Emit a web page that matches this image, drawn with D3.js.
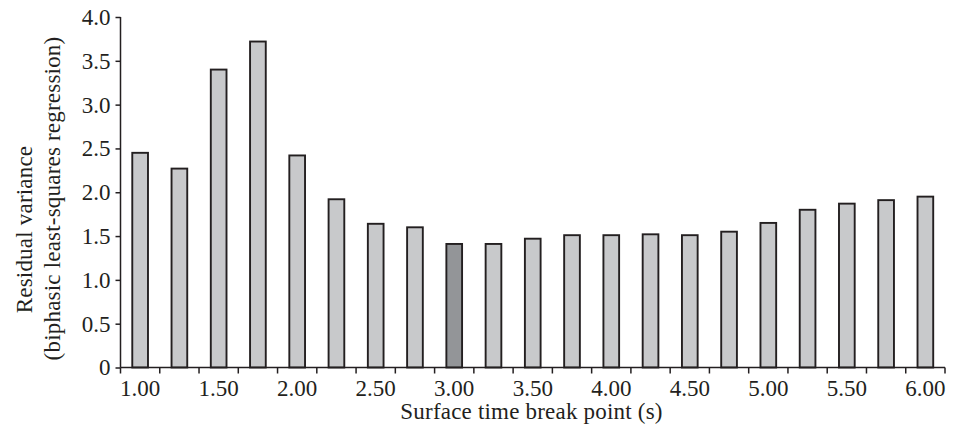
<!DOCTYPE html>
<html>
<head>
<meta charset="utf-8">
<script src="https://cdn.jsdelivr.net/npm/d3@7"></script>
<style>
  body { margin: 0; background: #fff; }
  text { font-family: "Liberation Serif", "DejaVu Serif", serif; fill: #231f20; }
</style>
</head>
<body>
<div id="chart"></div>
<script>
// data
var breakPoints = ["1.00","1.25","1.50","1.75","2.00","2.25","2.50","2.75","3.00","3.25","3.50",
                   "3.75","4.00","4.25","4.50","4.75","5.00","5.25","5.50","5.75","6.00"];
var residualVariance = [2.45, 2.27, 3.40, 3.72, 2.42, 1.92, 1.64, 1.60, 1.41, 1.41, 1.47,
                        1.51, 1.51, 1.52, 1.51, 1.55, 1.65, 1.80, 1.87, 1.91, 1.95];
var highlighted = "3.00";
var xTickLabels = ["1.00","1.50","2.00","2.50","3.00","3.50","4.00","4.50","5.00","5.50","6.00"];
var yTicks = [0, 0.5, 1.0, 1.5, 2.0, 2.5, 3.0, 3.5, 4.0];

var svgWidth = 961;
var svgHeight = 435;

var margin = { top: 17, right: 16, bottom: 67.5, left: 120.5 };
var chartWidth = svgWidth - margin.left - margin.right;
var chartHeight = svgHeight - margin.top - margin.bottom;

var svg = d3.select("#chart")
  .append("svg")
  .attr("width", svgWidth)
  .attr("height", svgHeight);

var chartGroup = svg.append("g")
  .attr("transform", `translate(${margin.left}, ${margin.top})`);

var data = breakPoints.map((b, i) => ({ bp: b, value: residualVariance[i] }));

var xBandScale = d3.scaleBand()
  .domain(breakPoints)
  .range([0, chartWidth])
  .paddingInner(0.6)
  .paddingOuter(0.3);

var yLinearScale = d3.scaleLinear()
  .domain([0, 4])
  .range([chartHeight, 0]);

// bars
chartGroup.selectAll("rect.bar")
  .data(data)
  .enter()
  .append("rect")
  .attr("class", "bar")
  .attr("x", d => xBandScale(d.bp))
  .attr("y", d => yLinearScale(d.value))
  .attr("width", xBandScale.bandwidth())
  .attr("height", d => chartHeight - yLinearScale(d.value))
  .attr("fill", d => d.bp === highlighted ? "#939598" : "#c8c9cb")
  .attr("stroke", "#231f20")
  .attr("stroke-width", 1.9);

// x axis: ticks sit between categories, labels every other bar
var step = chartWidth / breakPoints.length;
var xAxisGroup = chartGroup.append("g")
  .attr("transform", `translate(0, ${chartHeight})`);

xAxisGroup.append("line")
  .attr("x1", 0).attr("x2", chartWidth)
  .attr("y1", 0).attr("y2", 0)
  .attr("stroke", "#231f20")
  .attr("stroke-width", 1.5);

xAxisGroup.selectAll("line.tick")
  .data(d3.range(breakPoints.length + 1))
  .enter()
  .append("line")
  .attr("class", "tick")
  .attr("x1", i => i * step).attr("x2", i => i * step)
  .attr("y1", 0).attr("y2", 6)
  .attr("stroke", "#231f20")
  .attr("stroke-width", 1.5);

xAxisGroup.selectAll("text")
  .data(xTickLabels)
  .enter()
  .append("text")
  .attr("x", d => xBandScale(d) + xBandScale.bandwidth() / 2)
  .attr("y", 28)
  .attr("text-anchor", "middle")
  .attr("font-size", 23)
  .text(d => d);

// y axis
var leftAxis = d3.axisLeft(yLinearScale)
  .tickValues(yTicks)
  .tickSize(5)
  .tickPadding(5)
  .tickFormat(d => d === 0 ? "0" : d.toFixed(1));

var yAxisGroup = chartGroup.append("g").call(leftAxis);
yAxisGroup.select(".domain").attr("stroke", "#231f20").attr("stroke-width", 1.5)
  .attr("d", `M0,0V${chartHeight}`);
yAxisGroup.selectAll(".tick line").attr("stroke", "#231f20").attr("stroke-width", 1.5);
yAxisGroup.selectAll(".tick text")
  .attr("font-size", 23)
  .attr("font-family", "Liberation Serif")
  .attr("fill", "#231f20");

// axis labels
svg.append("text")
  .attr("x", 531.5)
  .attr("y", 419)
  .attr("text-anchor", "middle")
  .attr("font-size", 23)
  .attr("letter-spacing", 0.2)
  .text("Surface time break point (s)");

// y title lines are not centred on the same point in the original
svg.append("text")
  .attr("transform", "translate(32, 229.5) rotate(-90)")
  .attr("text-anchor", "middle")
  .attr("font-size", 23)
  .attr("letter-spacing", 0.2)
  .text("Residual variance");

svg.append("text")
  .attr("transform", "translate(60, 198.5) rotate(-90)")
  .attr("text-anchor", "middle")
  .attr("font-size", 23)
  .attr("letter-spacing", 0.2)
  .text("(biphasic least-squares regression)");
</script>
</body>
</html>
